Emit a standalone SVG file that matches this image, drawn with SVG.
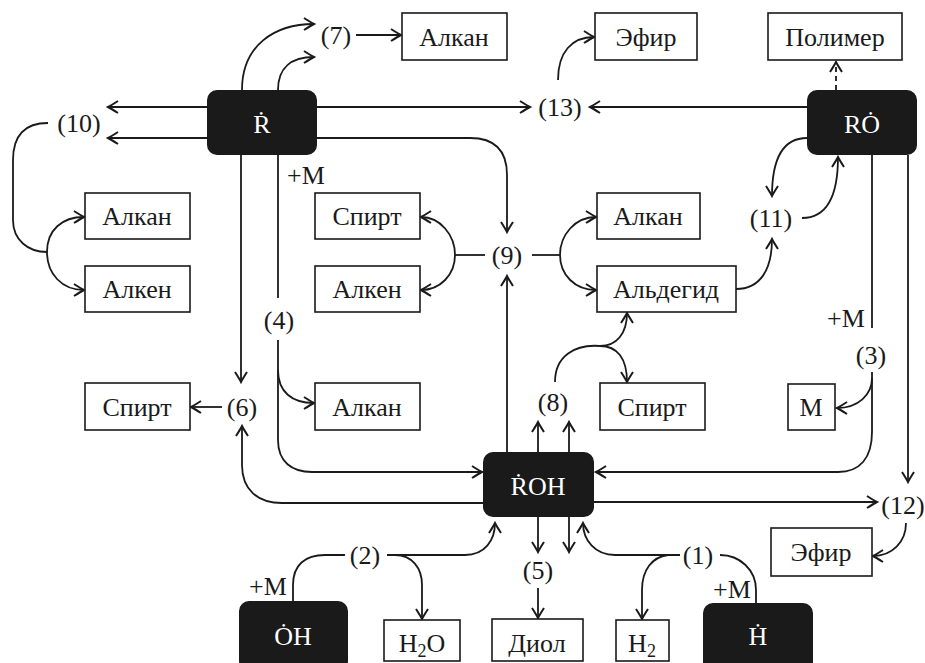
<svg xmlns="http://www.w3.org/2000/svg" width="925" height="663" viewBox="0 0 925 663">
<style>
text{font-family:"Liberation Serif","DejaVu Serif",serif;font-size:26px;fill:#1a1a1a;text-anchor:middle}
.box rect{fill:#fff;stroke:#1a1a1a;stroke-width:1.6}
.blk rect{fill:#1a1a1a}
.blk text{fill:#fff}
.c path{fill:none;stroke:#1a1a1a;stroke-width:1.8}
.c .d{stroke-dasharray:5 4}
</style>
<defs>
<marker id="a" viewBox="-12 -7 14 14" refX="0" refY="0" markerWidth="14" markerHeight="14" markerUnits="userSpaceOnUse" orient="auto" overflow="visible">
<path d="M-10,-6 Q-3,-1.5 0,0 Q-3,1.5 -10,6" fill="none" stroke="#1a1a1a" stroke-width="2"/>
</marker>
</defs>
<rect width="925" height="663" fill="#fff"/>
<g class="c">
<path d="M207,107 H108" marker-end="url(#a)"/>
<path d="M207,138 H108" marker-end="url(#a)"/>
<path d="M48,123 C25,123 13,135 13,160 V220 C13,240 28,252 47,252"/>
<path d="M47,252 C47,230 62,217 84,217" marker-end="url(#a)"/>
<path d="M47,252 C47,274 62,290 84,290" marker-end="url(#a)"/>
<path d="M242,90 C242,45 275,24 314,24" marker-end="url(#a)"/>
<path d="M278,90 C278,67 292,57 314,57" marker-end="url(#a)"/>
<path d="M356,35 H401" marker-end="url(#a)"/>
<path d="M317,107 H530" marker-end="url(#a)"/>
<path d="M807,107 H590" marker-end="url(#a)"/>
<path d="M558,80 C558,52 572,37 594,37" marker-end="url(#a)"/>
<path class="d" d="M836,90 V62" marker-end="url(#a)"/>
<path d="M317,138 H470 C495,138 507,150 507,175 V232" marker-end="url(#a)"/>
<path d="M507,453 V276" marker-end="url(#a)"/>
<path d="M485,255 H455"/>
<path d="M455,255 C455,235 440,217 421,217" marker-end="url(#a)"/>
<path d="M455,255 C455,275 440,290 421,290" marker-end="url(#a)"/>
<path d="M532,255 H560"/>
<path d="M560,255 C560,235 575,217 596,217" marker-end="url(#a)"/>
<path d="M560,255 C560,275 575,290 596,290" marker-end="url(#a)"/>
<path d="M241,155 V382" marker-end="url(#a)"/>
<path d="M483,503 H282 C258,503 242,490 242,465 V426" marker-end="url(#a)"/>
<path d="M222,407 H191" marker-end="url(#a)"/>
<path d="M278,155 V298"/>
<path d="M278,340 V440 C278,462 292,472 312,472 H482" marker-end="url(#a)"/>
<path d="M278,370 C278,392 292,403 314,403" marker-end="url(#a)"/>
<path d="M538,453 V422" marker-end="url(#a)"/>
<path d="M569,453 V422" marker-end="url(#a)"/>
<path d="M555,382 C555,356 575,344 600,346"/>
<path d="M600,346 C617,346 627,333 627,313" marker-end="url(#a)"/>
<path d="M600,346 C617,346 627,358 627,382" marker-end="url(#a)"/>
<path d="M736,289 C760,289 772,270 772,239" marker-end="url(#a)"/>
<path d="M807,138 C785,138 772,155 772,196" marker-end="url(#a)"/>
<path d="M802,218 C825,218 838,200 838,157" marker-end="url(#a)"/>
<path d="M872,155 V328"/>
<path d="M872,372 V432 C872,458 860,472 838,472 H596" marker-end="url(#a)"/>
<path d="M872,378 C872,395 858,408 837,408" marker-end="url(#a)"/>
<path d="M908,155 V482" marker-end="url(#a)"/>
<path d="M594,502 H877" marker-end="url(#a)"/>
<path d="M906,523 C906,542 892,556 873,556" marker-end="url(#a)"/>
<path d="M538,517 V552" marker-end="url(#a)"/>
<path d="M569,517 V552" marker-end="url(#a)"/>
<path d="M538,588 V618" marker-end="url(#a)"/>
<path d="M293,601 V585 C293,565 305,555 325,555 H345"/>
<path d="M387,555 H465 C485,555 495,540 495,523" marker-end="url(#a)"/>
<path d="M395,555 C412,555 422,568 422,585 V619" marker-end="url(#a)"/>
<path d="M680,555 H615 C595,555 583,540 583,523" marker-end="url(#a)"/>
<path d="M668,555 C652,557 642,570 642,590 V619" marker-end="url(#a)"/>
<path d="M720,555 C740,555 756,570 756,590 V603"/>
</g>
<g id="labels">
<text x="336" y="44">(7)</text>
<text x="79" y="132">(10)</text>
<text x="560" y="116">(13)</text>
<text x="507" y="264">(9)</text>
<text x="771" y="227">(11)</text>
<text x="306" y="184">+M</text>
<text x="279" y="329">(4)</text>
<text x="242" y="416">(6)</text>
<text x="553" y="411">(8)</text>
<text x="846" y="327">+M</text>
<text x="871" y="364">(3)</text>
<text x="903" y="514">(12)</text>
<text x="538" y="579">(5)</text>
<text x="365" y="564">(2)</text>
<text x="268" y="595">+M</text>
<text x="698" y="564">(1)</text>
<text x="732" y="598">+M</text>
</g>
<g id="R" class="blk"><rect x="207" y="90" width="110" height="65" rx="10"/><text x="262" y="133">Ṙ</text></g>
<g id="RO" class="blk"><rect x="807" y="90" width="110" height="65" rx="10"/><text x="862" y="133">RȮ</text></g>
<g id="ROH" class="blk"><rect x="483" y="452" width="111" height="65" rx="10"/><text x="538" y="495">ṘOH</text></g>
<g id="OH" class="blk"><rect x="239" y="601" width="109" height="70" rx="10"/><text x="293" y="645">ȮH</text></g>
<g id="H" class="blk"><rect x="703" y="603" width="110" height="70" rx="10"/><text x="758" y="645">Ḣ</text></g>
<g id="alkan7" class="box"><rect x="402" y="13" width="105" height="47"/><text x="454" y="46">Алкан</text></g>
<g id="efir13" class="box"><rect x="595" y="13" width="102" height="47"/><text x="646" y="46">Эфир</text></g>
<g id="polimer" class="box"><rect x="768" y="13" width="134" height="47"/><text x="835" y="46">Полимер</text></g>
<g id="alkan10" class="box"><rect x="85" y="193" width="105" height="46"/><text x="137" y="225">Алкан</text></g>
<g id="alken10" class="box"><rect x="85" y="266" width="105" height="46"/><text x="137" y="298">Алкен</text></g>
<g id="spirt6" class="box"><rect x="85" y="383" width="105" height="47"/><text x="137" y="416">Спирт</text></g>
<g id="spirt9" class="box"><rect x="315" y="193" width="105" height="46"/><text x="367" y="225">Спирт</text></g>
<g id="alken9" class="box"><rect x="315" y="266" width="105" height="46"/><text x="367" y="298">Алкен</text></g>
<g id="alkan4" class="box"><rect x="315" y="383" width="105" height="47"/><text x="367" y="416">Алкан</text></g>
<g id="alkan9" class="box"><rect x="597" y="193" width="103" height="46"/><text x="648" y="225">Алкан</text></g>
<g id="aldegid" class="box"><rect x="597" y="266" width="139" height="46"/><text x="666" y="298">Альдегид</text></g>
<g id="spirt8" class="box"><rect x="600" y="383" width="105" height="47"/><text x="652" y="416">Спирт</text></g>
<g id="M" class="box"><rect x="788" y="384" width="47" height="46"/><text x="811" y="416">М</text></g>
<g id="efir12" class="box"><rect x="771" y="528" width="101" height="48"/><text x="821" y="561">Эфир</text></g>
<g id="h2o" class="box"><rect x="384" y="620" width="76" height="41"/><text x="422" y="652">H<tspan font-size="18" dy="5">2</tspan><tspan dy="-5">O</tspan></text></g>
<g id="diol" class="box"><rect x="492" y="619" width="91" height="42"/><text x="537" y="652">Диол</text></g>
<g id="h2" class="box"><rect x="616" y="620" width="53" height="41"/><text x="642" y="652">H<tspan font-size="18" dy="5">2</tspan></text></g>
</svg>
